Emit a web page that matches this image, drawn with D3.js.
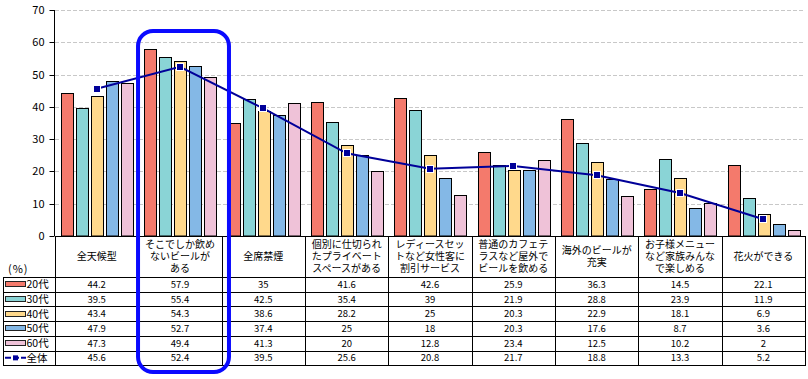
<!DOCTYPE html>
<html><head><meta charset="utf-8">
<script src="https://cdn.jsdelivr.net/npm/d3@7"></script>
<style>
body{margin:0;background:#fff;}
svg{display:block;}
text{font-family:"Noto Sans CJK JP","Noto Sans",sans-serif;}
</style></head>
<body>
<svg id="chart" width="808" height="379"></svg>
<script>
const categories = ["全天候型","そこでしか飲めないビールがある","全席禁煙","個別に仕切られたプライベートスペースがある","レディースセットなど女性客に割引サービス","普通のカフェテラスなど屋外でビールを飲める","海外のビールが充実","お子様メニューなど家族みんなで楽しめる","花火ができる"];
const categoryLines = [["全天候型"],["そこでしか飲め","ないビールが","ある"],["全席禁煙"],["個別に仕切られ","たプライベート","スペースがある"],["レディースセッ","トなど女性客に","割引サービス"],["普通のカフェテ","ラスなど屋外で","ビールを飲める"],["海外のビールが","充実"],["お子様メニュー","など家族みんな","で楽しめる"],["花火ができる"]];
const seriesNames = ["20代","30代","40代","50代","60代"];
const v20 = [44.2,57.9,35,41.6,42.6,25.9,36.3,14.5,22.1];
const v30 = [39.5,55.4,42.5,35.4,39,21.9,28.8,23.9,11.9];
const v40 = [43.4,54.3,38.6,28.2,25,20.3,22.9,18.1,6.9];
const v50 = [47.9,52.7,37.4,25,18,20.3,17.6,8.7,3.6];
const v60 = [47.3,49.4,41.3,20,12.8,23.4,12.5,10.2,2];
const totalName = "全体";
const vTotal = [45.6,52.4,39.5,25.6,20.8,21.7,18.8,13.3,5.2];
const yTicks = [0,10,20,30,40,50,60,70];
const highlightIndex = 1;

const seriesValues = [v20,v30,v40,v50,v60];
const colors = ["#F47A6C","#8AD4D6","#FFD98C","#84B8E6","#EFC2D8"];
const lineColor = "#000099";

const svg = d3.select("#chart");
const L = 55, R = 805, yTop = 10, yBase = 236;
const x0 = d3.scaleBand().domain(categories).range([L, R]);
const x1 = d3.scaleBand().domain(seriesNames).range([0, x0.bandwidth()]).paddingInner(0.23).paddingOuter(0.39);
const y = d3.scaleLinear().domain([0,70]).range([yBase, yTop]);

// gridlines
svg.append("g").selectAll("line").data(yTicks.filter(t=>t>0)).join("line")
  .attr("x1", L).attr("x2", R)
  .attr("y1", d=>Math.round(y(d))+0.5).attr("y2", d=>Math.round(y(d))+0.5)
  .attr("stroke","#c8c8c8").attr("stroke-dasharray","4,2");

// y axis
const yAxis = d3.axisLeft(y).tickValues(yTicks).tickSize(5).tickPadding(5);
const ga = svg.append("g").attr("transform",`translate(${L-0.5},0)`).call(yAxis);
ga.select(".domain").attr("stroke","#000").attr("d",`M0,${yTop}V${yBase}`);
ga.selectAll(".tick line").attr("stroke","#000");
ga.selectAll(".tick text").attr("font-family","'Liberation Sans',Arial,sans-serif").attr("font-size","11px").attr("fill","#000");
ga.selectAll(".tick").attr("transform", d=>`translate(0,${Math.round(y(d))+0.5})`);

// bars
const gBars = svg.append("g");
categories.forEach((c,ci)=>{
  seriesNames.forEach((s,si)=>{
    const v = seriesValues[si][ci];
    const bx = Math.round(x0(c)+x1(s))+0.5;
    const by = Math.round(y(v))+0.5;
    gBars.append("rect")
      .attr("x", bx).attr("y", by)
      .attr("width", Math.round(x1.bandwidth()))
      .attr("height", yBase - by)
      .attr("fill", colors[si]).attr("stroke","#000").attr("stroke-width",1);
  });
});

// baseline
svg.append("line").attr("x1",L).attr("x2",R).attr("y1",yBase+0.5).attr("y2",yBase+0.5).attr("stroke","#000");

// total line
const cx = c => x0(c) + x0.bandwidth()/2;
const line = d3.line().x((d,i)=>cx(categories[i])).y(d=>y(d));
svg.append("path").datum(vTotal).attr("d", line).attr("fill","none").attr("stroke",lineColor).attr("stroke-width",2);
svg.append("g").selectAll("rect").data(vTotal).join("rect")
  .attr("x",(d,i)=>Math.round(cx(categories[i]))-4+0.5).attr("y",d=>Math.round(y(d))-4+0.5)
  .attr("width",7).attr("height",7).attr("fill",lineColor).attr("stroke","#fff").attr("stroke-width",1);

// table
const headerBottom = 277, rowH = 14.7, nRows = 6;
const tableBottom = headerBottom + rowH*nRows;
const gT = svg.append("g").attr("shape-rendering","crispEdges");
const bounds = categories.map(c=>x0(c)).concat([R]);
gT.selectAll("line.v").data(bounds).join("line")
  .attr("x1",d=>Math.round(d)+0.5).attr("x2",d=>Math.round(d)+0.5)
  .attr("y1",yBase).attr("y2",tableBottom).attr("stroke","#000");
gT.append("line").attr("x1",3.5).attr("x2",3.5).attr("y1",headerBottom).attr("y2",tableBottom).attr("stroke","#000");
for(let r=0;r<=nRows;r++){
  const yy = Math.round(headerBottom + r*rowH)+0.5;
  gT.append("line").attr("x1",3).attr("x2",R+1).attr("y1",yy).attr("y2",yy).attr("stroke","#000");
}
// header labels
const lh = 12, hc = 256.5;
categories.forEach((c,ci)=>{
  const lines = categoryLines[ci];
  const t = svg.append("text").attr("text-anchor","middle").attr("font-size","10px").attr("fill","#000");
  lines.forEach((ln,li)=>{
    t.append("tspan").attr("x", cx(c)).attr("y", hc + (li-(lines.length-1)/2)*lh + 3.6).text(ln);
  });
});
svg.append("text").attr("x",8).attr("y",273).attr("font-size","11px").attr("letter-spacing","1px").text("(%)");

// rows
const rowLabels = seriesNames.concat([totalName]);
const rowValues = seriesValues.concat([vTotal]);
rowLabels.forEach((lab,ri)=>{
  const rc = headerBottom + ri*rowH + rowH/2;
  if(ri<5){
    svg.append("rect").attr("x",5.5).attr("y",Math.round(rc-3)+0.5).attr("width",20).attr("height",5)
      .attr("fill",colors[ri]).attr("stroke","#222").attr("stroke-width",1);
  } else {
    svg.append("line").attr("x1",5).attr("x2",26).attr("y1",rc).attr("y2",rc).attr("stroke",lineColor).attr("stroke-width",2).attr("stroke-dasharray","6,2");
    svg.append("rect").attr("x",13).attr("y",rc-2.5).attr("width",5).attr("height",5).attr("fill",lineColor);
  }
  svg.append("text").attr("x",26.5).attr("y",rc+3.8).attr("font-size","10.5px").text(lab);
  categories.forEach((c,ci)=>{
    svg.append("text").attr("x",cx(c)).attr("y",rc+3.6).attr("text-anchor","middle")
      .attr("font-family","'DejaVu Sans Mono','Liberation Mono',monospace").attr("font-size","9.5px")
      .text(String(rowValues[ri][ci]));
  });
});

// highlight
const hx = x0(categories[highlightIndex]);
svg.append("rect").attr("x",hx-0.3).attr("y",31).attr("width",x0.bandwidth()+7.6).attr("height",341)
  .attr("rx",15).attr("ry",15).attr("fill","none").attr("stroke","#0a0aff").attr("stroke-width",4);
</script>
</body></html>
